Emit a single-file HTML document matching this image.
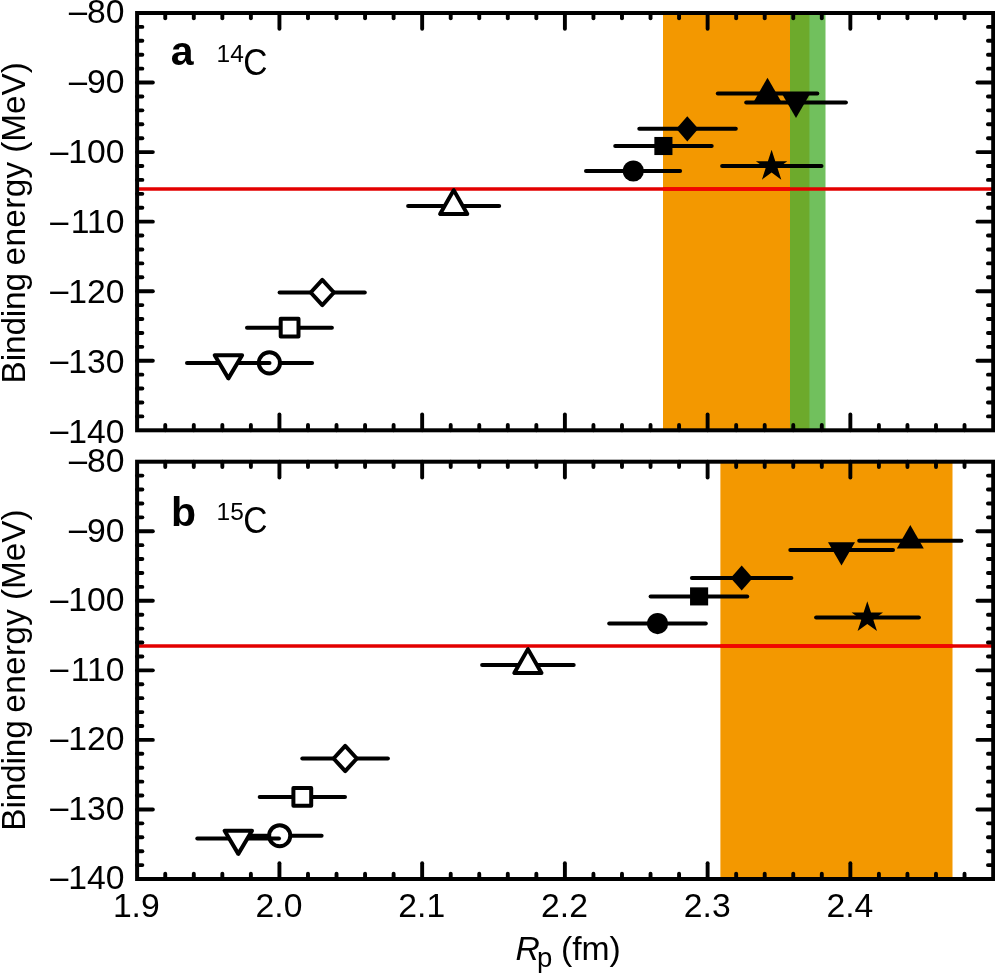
<!DOCTYPE html>
<html><head><meta charset="utf-8"><title>Binding energy vs Rp</title>
<style>html,body{margin:0;padding:0;background:#fff;}body{width:995px;height:974px;overflow:hidden;}svg{display:block;will-change:transform;}text{font-family:"Liberation Sans",sans-serif;fill:#000;}</style>
</head><body>
<svg width="995" height="974" viewBox="0 0 995 974">
<rect x="0" y="0" width="995" height="974" fill="#fff"/>
<rect x="663" y="13" width="146.4" height="417.3" fill="#F39800"/>
<rect x="790" y="13" width="35.5" height="417.3" fill="#71C05D"/>
<rect x="790" y="13" width="19.4" height="417.3" fill="#6DAA2C"/>
<line x1="137" y1="188.95" x2="993" y2="188.95" stroke="#E30000" stroke-width="3.4"/>
<line x1="663" y1="188.95" x2="790" y2="188.95" stroke="#F20500" stroke-width="3.4"/>
<line x1="226.7" y1="362.9" x2="312.1" y2="362.9" stroke="#000" stroke-width="4" stroke-linecap="round"/>
<circle cx="269.4" cy="362.9" r="10.55" fill="#fff" stroke="#000" stroke-width="4"/>
<line x1="187" y1="362.9" x2="269.5" y2="362.9" stroke="#000" stroke-width="4" stroke-linecap="round"/>
<polygon points="214.7,355.17 242.1,355.17 228.4,378.37" fill="#fff" stroke="#000" stroke-width="4" stroke-linejoin="round"/>
<line x1="247" y1="327.7" x2="331.9" y2="327.7" stroke="#000" stroke-width="4" stroke-linecap="round"/>
<rect x="280.7" y="318.8" width="17.8" height="17.8" fill="#fff" stroke="#000" stroke-width="4" stroke-linejoin="round"/>
<line x1="279.6" y1="292.5" x2="364.8" y2="292.5" stroke="#000" stroke-width="4" stroke-linecap="round"/>
<polygon points="310.7,292.5 322.3,279.9 333.9,292.5 322.3,305.1" fill="#fff" stroke="#000" stroke-width="4" stroke-linejoin="round"/>
<line x1="408.1" y1="206" x2="499.2" y2="206" stroke="#000" stroke-width="4" stroke-linecap="round"/>
<polygon points="440.1,213.93 467.3,213.93 453.7,190.13" fill="#fff" stroke="#000" stroke-width="4" stroke-linejoin="round"/>
<line x1="586" y1="171" x2="680.1" y2="171" stroke="#000" stroke-width="4" stroke-linecap="round"/>
<circle cx="633.3" cy="171" r="10.6" fill="#000"/>
<line x1="615.2" y1="146" x2="711.7" y2="146" stroke="#000" stroke-width="4" stroke-linecap="round"/>
<rect x="654.35" y="136.95" width="18.1" height="18.1" fill="#000"/>
<line x1="639.3" y1="128.8" x2="735.8" y2="128.8" stroke="#000" stroke-width="4" stroke-linecap="round"/>
<polygon points="676.3,128.8 687.3,116.2 698.3,128.8 687.3,141.4" fill="#000"/>
<line x1="717.8" y1="93.4" x2="817.3" y2="93.4" stroke="#000" stroke-width="4" stroke-linecap="round"/>
<polygon points="754,101.27 781,101.27 767.5,77.67" fill="#000"/>
<line x1="746.2" y1="102.6" x2="845.9" y2="102.6" stroke="#000" stroke-width="4" stroke-linecap="round"/>
<polygon points="782.5,94.87 809.5,94.87 796,118.07" fill="#000"/>
<line x1="722.1" y1="166" x2="821.5" y2="166" stroke="#000" stroke-width="4" stroke-linecap="round"/>
<polygon points="771.6,149.8 775.3,161.2 787.29,161.2 777.59,168.25 781.3,179.65 771.6,172.6 761.9,179.65 765.61,168.25 755.91,161.2 767.9,161.2" fill="#000"/>
<line x1="165.25" y1="13" x2="165.25" y2="18.25" stroke="#000" stroke-width="3.9" stroke-linecap="round"/>
<line x1="165.25" y1="430.3" x2="165.25" y2="425.05" stroke="#000" stroke-width="3.9" stroke-linecap="round"/>
<line x1="193.79" y1="13" x2="193.79" y2="18.25" stroke="#000" stroke-width="3.9" stroke-linecap="round"/>
<line x1="193.79" y1="430.3" x2="193.79" y2="425.05" stroke="#000" stroke-width="3.9" stroke-linecap="round"/>
<line x1="222.34" y1="13" x2="222.34" y2="18.25" stroke="#000" stroke-width="3.9" stroke-linecap="round"/>
<line x1="222.34" y1="430.3" x2="222.34" y2="425.05" stroke="#000" stroke-width="3.9" stroke-linecap="round"/>
<line x1="250.88" y1="13" x2="250.88" y2="18.25" stroke="#000" stroke-width="3.9" stroke-linecap="round"/>
<line x1="250.88" y1="430.3" x2="250.88" y2="425.05" stroke="#000" stroke-width="3.9" stroke-linecap="round"/>
<line x1="279.43" y1="13" x2="279.43" y2="28.75" stroke="#000" stroke-width="3.9" stroke-linecap="round"/>
<line x1="279.43" y1="430.3" x2="279.43" y2="414.55" stroke="#000" stroke-width="3.9" stroke-linecap="round"/>
<line x1="307.98" y1="13" x2="307.98" y2="18.25" stroke="#000" stroke-width="3.9" stroke-linecap="round"/>
<line x1="307.98" y1="430.3" x2="307.98" y2="425.05" stroke="#000" stroke-width="3.9" stroke-linecap="round"/>
<line x1="336.52" y1="13" x2="336.52" y2="18.25" stroke="#000" stroke-width="3.9" stroke-linecap="round"/>
<line x1="336.52" y1="430.3" x2="336.52" y2="425.05" stroke="#000" stroke-width="3.9" stroke-linecap="round"/>
<line x1="365.07" y1="13" x2="365.07" y2="18.25" stroke="#000" stroke-width="3.9" stroke-linecap="round"/>
<line x1="365.07" y1="430.3" x2="365.07" y2="425.05" stroke="#000" stroke-width="3.9" stroke-linecap="round"/>
<line x1="393.61" y1="13" x2="393.61" y2="18.25" stroke="#000" stroke-width="3.9" stroke-linecap="round"/>
<line x1="393.61" y1="430.3" x2="393.61" y2="425.05" stroke="#000" stroke-width="3.9" stroke-linecap="round"/>
<line x1="422.16" y1="13" x2="422.16" y2="28.75" stroke="#000" stroke-width="3.9" stroke-linecap="round"/>
<line x1="422.16" y1="430.3" x2="422.16" y2="414.55" stroke="#000" stroke-width="3.9" stroke-linecap="round"/>
<line x1="450.71" y1="13" x2="450.71" y2="18.25" stroke="#000" stroke-width="3.9" stroke-linecap="round"/>
<line x1="450.71" y1="430.3" x2="450.71" y2="425.05" stroke="#000" stroke-width="3.9" stroke-linecap="round"/>
<line x1="479.25" y1="13" x2="479.25" y2="18.25" stroke="#000" stroke-width="3.9" stroke-linecap="round"/>
<line x1="479.25" y1="430.3" x2="479.25" y2="425.05" stroke="#000" stroke-width="3.9" stroke-linecap="round"/>
<line x1="507.8" y1="13" x2="507.8" y2="18.25" stroke="#000" stroke-width="3.9" stroke-linecap="round"/>
<line x1="507.8" y1="430.3" x2="507.8" y2="425.05" stroke="#000" stroke-width="3.9" stroke-linecap="round"/>
<line x1="536.34" y1="13" x2="536.34" y2="18.25" stroke="#000" stroke-width="3.9" stroke-linecap="round"/>
<line x1="536.34" y1="430.3" x2="536.34" y2="425.05" stroke="#000" stroke-width="3.9" stroke-linecap="round"/>
<line x1="564.89" y1="13" x2="564.89" y2="28.75" stroke="#000" stroke-width="3.9" stroke-linecap="round"/>
<line x1="564.89" y1="430.3" x2="564.89" y2="414.55" stroke="#000" stroke-width="3.9" stroke-linecap="round"/>
<line x1="593.44" y1="13" x2="593.44" y2="18.25" stroke="#000" stroke-width="3.9" stroke-linecap="round"/>
<line x1="593.44" y1="430.3" x2="593.44" y2="425.05" stroke="#000" stroke-width="3.9" stroke-linecap="round"/>
<line x1="621.98" y1="13" x2="621.98" y2="18.25" stroke="#000" stroke-width="3.9" stroke-linecap="round"/>
<line x1="621.98" y1="430.3" x2="621.98" y2="425.05" stroke="#000" stroke-width="3.9" stroke-linecap="round"/>
<line x1="650.53" y1="13" x2="650.53" y2="18.25" stroke="#000" stroke-width="3.9" stroke-linecap="round"/>
<line x1="650.53" y1="430.3" x2="650.53" y2="425.05" stroke="#000" stroke-width="3.9" stroke-linecap="round"/>
<line x1="679.07" y1="13" x2="679.07" y2="18.25" stroke="#000" stroke-width="3.9" stroke-linecap="round"/>
<line x1="679.07" y1="430.3" x2="679.07" y2="425.05" stroke="#000" stroke-width="3.9" stroke-linecap="round"/>
<line x1="707.62" y1="13" x2="707.62" y2="28.75" stroke="#000" stroke-width="3.9" stroke-linecap="round"/>
<line x1="707.62" y1="430.3" x2="707.62" y2="414.55" stroke="#000" stroke-width="3.9" stroke-linecap="round"/>
<line x1="736.17" y1="13" x2="736.17" y2="18.25" stroke="#000" stroke-width="3.9" stroke-linecap="round"/>
<line x1="736.17" y1="430.3" x2="736.17" y2="425.05" stroke="#000" stroke-width="3.9" stroke-linecap="round"/>
<line x1="764.71" y1="13" x2="764.71" y2="18.25" stroke="#000" stroke-width="3.9" stroke-linecap="round"/>
<line x1="764.71" y1="430.3" x2="764.71" y2="425.05" stroke="#000" stroke-width="3.9" stroke-linecap="round"/>
<line x1="793.26" y1="13" x2="793.26" y2="18.25" stroke="#000" stroke-width="3.9" stroke-linecap="round"/>
<line x1="793.26" y1="430.3" x2="793.26" y2="425.05" stroke="#000" stroke-width="3.9" stroke-linecap="round"/>
<line x1="821.8" y1="13" x2="821.8" y2="18.25" stroke="#000" stroke-width="3.9" stroke-linecap="round"/>
<line x1="821.8" y1="430.3" x2="821.8" y2="425.05" stroke="#000" stroke-width="3.9" stroke-linecap="round"/>
<line x1="850.35" y1="13" x2="850.35" y2="28.75" stroke="#000" stroke-width="3.9" stroke-linecap="round"/>
<line x1="850.35" y1="430.3" x2="850.35" y2="414.55" stroke="#000" stroke-width="3.9" stroke-linecap="round"/>
<line x1="878.9" y1="13" x2="878.9" y2="18.25" stroke="#000" stroke-width="3.9" stroke-linecap="round"/>
<line x1="878.9" y1="430.3" x2="878.9" y2="425.05" stroke="#000" stroke-width="3.9" stroke-linecap="round"/>
<line x1="907.44" y1="13" x2="907.44" y2="18.25" stroke="#000" stroke-width="3.9" stroke-linecap="round"/>
<line x1="907.44" y1="430.3" x2="907.44" y2="425.05" stroke="#000" stroke-width="3.9" stroke-linecap="round"/>
<line x1="935.99" y1="13" x2="935.99" y2="18.25" stroke="#000" stroke-width="3.9" stroke-linecap="round"/>
<line x1="935.99" y1="430.3" x2="935.99" y2="425.05" stroke="#000" stroke-width="3.9" stroke-linecap="round"/>
<line x1="964.53" y1="13" x2="964.53" y2="18.25" stroke="#000" stroke-width="3.9" stroke-linecap="round"/>
<line x1="964.53" y1="430.3" x2="964.53" y2="425.05" stroke="#000" stroke-width="3.9" stroke-linecap="round"/>
<line x1="137.1" y1="26.91" x2="142.35" y2="26.91" stroke="#000" stroke-width="3.9" stroke-linecap="round"/>
<line x1="993.2" y1="26.91" x2="987.95" y2="26.91" stroke="#000" stroke-width="3.9" stroke-linecap="round"/>
<line x1="137.1" y1="40.82" x2="142.35" y2="40.82" stroke="#000" stroke-width="3.9" stroke-linecap="round"/>
<line x1="993.2" y1="40.82" x2="987.95" y2="40.82" stroke="#000" stroke-width="3.9" stroke-linecap="round"/>
<line x1="137.1" y1="54.73" x2="142.35" y2="54.73" stroke="#000" stroke-width="3.9" stroke-linecap="round"/>
<line x1="993.2" y1="54.73" x2="987.95" y2="54.73" stroke="#000" stroke-width="3.9" stroke-linecap="round"/>
<line x1="137.1" y1="68.64" x2="142.35" y2="68.64" stroke="#000" stroke-width="3.9" stroke-linecap="round"/>
<line x1="993.2" y1="68.64" x2="987.95" y2="68.64" stroke="#000" stroke-width="3.9" stroke-linecap="round"/>
<line x1="137.1" y1="82.55" x2="152.85" y2="82.55" stroke="#000" stroke-width="3.9" stroke-linecap="round"/>
<line x1="993.2" y1="82.55" x2="977.45" y2="82.55" stroke="#000" stroke-width="3.9" stroke-linecap="round"/>
<line x1="137.1" y1="96.46" x2="142.35" y2="96.46" stroke="#000" stroke-width="3.9" stroke-linecap="round"/>
<line x1="993.2" y1="96.46" x2="987.95" y2="96.46" stroke="#000" stroke-width="3.9" stroke-linecap="round"/>
<line x1="137.1" y1="110.37" x2="142.35" y2="110.37" stroke="#000" stroke-width="3.9" stroke-linecap="round"/>
<line x1="993.2" y1="110.37" x2="987.95" y2="110.37" stroke="#000" stroke-width="3.9" stroke-linecap="round"/>
<line x1="137.1" y1="124.28" x2="142.35" y2="124.28" stroke="#000" stroke-width="3.9" stroke-linecap="round"/>
<line x1="993.2" y1="124.28" x2="987.95" y2="124.28" stroke="#000" stroke-width="3.9" stroke-linecap="round"/>
<line x1="137.1" y1="138.19" x2="142.35" y2="138.19" stroke="#000" stroke-width="3.9" stroke-linecap="round"/>
<line x1="993.2" y1="138.19" x2="987.95" y2="138.19" stroke="#000" stroke-width="3.9" stroke-linecap="round"/>
<line x1="137.1" y1="152.1" x2="152.85" y2="152.1" stroke="#000" stroke-width="3.9" stroke-linecap="round"/>
<line x1="993.2" y1="152.1" x2="977.45" y2="152.1" stroke="#000" stroke-width="3.9" stroke-linecap="round"/>
<line x1="137.1" y1="166.01" x2="142.35" y2="166.01" stroke="#000" stroke-width="3.9" stroke-linecap="round"/>
<line x1="993.2" y1="166.01" x2="987.95" y2="166.01" stroke="#000" stroke-width="3.9" stroke-linecap="round"/>
<line x1="137.1" y1="179.92" x2="142.35" y2="179.92" stroke="#000" stroke-width="3.9" stroke-linecap="round"/>
<line x1="993.2" y1="179.92" x2="987.95" y2="179.92" stroke="#000" stroke-width="3.9" stroke-linecap="round"/>
<line x1="137.1" y1="193.83" x2="142.35" y2="193.83" stroke="#000" stroke-width="3.9" stroke-linecap="round"/>
<line x1="993.2" y1="193.83" x2="987.95" y2="193.83" stroke="#000" stroke-width="3.9" stroke-linecap="round"/>
<line x1="137.1" y1="207.74" x2="142.35" y2="207.74" stroke="#000" stroke-width="3.9" stroke-linecap="round"/>
<line x1="993.2" y1="207.74" x2="987.95" y2="207.74" stroke="#000" stroke-width="3.9" stroke-linecap="round"/>
<line x1="137.1" y1="221.65" x2="152.85" y2="221.65" stroke="#000" stroke-width="3.9" stroke-linecap="round"/>
<line x1="993.2" y1="221.65" x2="977.45" y2="221.65" stroke="#000" stroke-width="3.9" stroke-linecap="round"/>
<line x1="137.1" y1="235.56" x2="142.35" y2="235.56" stroke="#000" stroke-width="3.9" stroke-linecap="round"/>
<line x1="993.2" y1="235.56" x2="987.95" y2="235.56" stroke="#000" stroke-width="3.9" stroke-linecap="round"/>
<line x1="137.1" y1="249.47" x2="142.35" y2="249.47" stroke="#000" stroke-width="3.9" stroke-linecap="round"/>
<line x1="993.2" y1="249.47" x2="987.95" y2="249.47" stroke="#000" stroke-width="3.9" stroke-linecap="round"/>
<line x1="137.1" y1="263.38" x2="142.35" y2="263.38" stroke="#000" stroke-width="3.9" stroke-linecap="round"/>
<line x1="993.2" y1="263.38" x2="987.95" y2="263.38" stroke="#000" stroke-width="3.9" stroke-linecap="round"/>
<line x1="137.1" y1="277.29" x2="142.35" y2="277.29" stroke="#000" stroke-width="3.9" stroke-linecap="round"/>
<line x1="993.2" y1="277.29" x2="987.95" y2="277.29" stroke="#000" stroke-width="3.9" stroke-linecap="round"/>
<line x1="137.1" y1="291.2" x2="152.85" y2="291.2" stroke="#000" stroke-width="3.9" stroke-linecap="round"/>
<line x1="993.2" y1="291.2" x2="977.45" y2="291.2" stroke="#000" stroke-width="3.9" stroke-linecap="round"/>
<line x1="137.1" y1="305.11" x2="142.35" y2="305.11" stroke="#000" stroke-width="3.9" stroke-linecap="round"/>
<line x1="993.2" y1="305.11" x2="987.95" y2="305.11" stroke="#000" stroke-width="3.9" stroke-linecap="round"/>
<line x1="137.1" y1="319.02" x2="142.35" y2="319.02" stroke="#000" stroke-width="3.9" stroke-linecap="round"/>
<line x1="993.2" y1="319.02" x2="987.95" y2="319.02" stroke="#000" stroke-width="3.9" stroke-linecap="round"/>
<line x1="137.1" y1="332.93" x2="142.35" y2="332.93" stroke="#000" stroke-width="3.9" stroke-linecap="round"/>
<line x1="993.2" y1="332.93" x2="987.95" y2="332.93" stroke="#000" stroke-width="3.9" stroke-linecap="round"/>
<line x1="137.1" y1="346.84" x2="142.35" y2="346.84" stroke="#000" stroke-width="3.9" stroke-linecap="round"/>
<line x1="993.2" y1="346.84" x2="987.95" y2="346.84" stroke="#000" stroke-width="3.9" stroke-linecap="round"/>
<line x1="137.1" y1="360.75" x2="152.85" y2="360.75" stroke="#000" stroke-width="3.9" stroke-linecap="round"/>
<line x1="993.2" y1="360.75" x2="977.45" y2="360.75" stroke="#000" stroke-width="3.9" stroke-linecap="round"/>
<line x1="137.1" y1="374.66" x2="142.35" y2="374.66" stroke="#000" stroke-width="3.9" stroke-linecap="round"/>
<line x1="993.2" y1="374.66" x2="987.95" y2="374.66" stroke="#000" stroke-width="3.9" stroke-linecap="round"/>
<line x1="137.1" y1="388.57" x2="142.35" y2="388.57" stroke="#000" stroke-width="3.9" stroke-linecap="round"/>
<line x1="993.2" y1="388.57" x2="987.95" y2="388.57" stroke="#000" stroke-width="3.9" stroke-linecap="round"/>
<line x1="137.1" y1="402.48" x2="142.35" y2="402.48" stroke="#000" stroke-width="3.9" stroke-linecap="round"/>
<line x1="993.2" y1="402.48" x2="987.95" y2="402.48" stroke="#000" stroke-width="3.9" stroke-linecap="round"/>
<line x1="137.1" y1="416.39" x2="142.35" y2="416.39" stroke="#000" stroke-width="3.9" stroke-linecap="round"/>
<line x1="993.2" y1="416.39" x2="987.95" y2="416.39" stroke="#000" stroke-width="3.9" stroke-linecap="round"/>
<rect x="137.1" y="13" width="856.1" height="417.3" fill="none" stroke="#000" stroke-width="4"/>
<text transform="translate(88.91,25.05) scale(1.115,1)" font-size="33.7" text-anchor="end">−</text>
<text x="124.5" y="23.45" font-size="33.7" text-anchor="end">80</text>
<text transform="translate(88.91,94.91) scale(1.115,1)" font-size="33.7" text-anchor="end">−</text>
<text x="124.5" y="93.31" font-size="33.7" text-anchor="end">90</text>
<text transform="translate(70.17,164.77) scale(1.115,1)" font-size="33.7" text-anchor="end">−</text>
<text x="124.5" y="163.17" font-size="33.7" text-anchor="end">100</text>
<text transform="translate(70.17,234.63) scale(1.115,1)" font-size="33.7" text-anchor="end">−</text>
<text x="124.5" y="233.03" font-size="33.7" text-anchor="end">110</text>
<text transform="translate(70.17,304.49) scale(1.115,1)" font-size="33.7" text-anchor="end">−</text>
<text x="124.5" y="302.89" font-size="33.7" text-anchor="end">120</text>
<text transform="translate(70.17,374.35) scale(1.115,1)" font-size="33.7" text-anchor="end">−</text>
<text x="124.5" y="372.75" font-size="33.7" text-anchor="end">130</text>
<text transform="translate(70.17,444.21) scale(1.115,1)" font-size="33.7" text-anchor="end">−</text>
<text x="124.5" y="442.61" font-size="33.7" text-anchor="end">140</text>
<rect x="720.4" y="461.7" width="232.1" height="417.3" fill="#F39800"/>
<line x1="137" y1="645.95" x2="993" y2="645.95" stroke="#E30000" stroke-width="3.4"/>
<line x1="720.4" y1="645.95" x2="952.5" y2="645.95" stroke="#F20500" stroke-width="3.4"/>
<line x1="237.8" y1="835.7" x2="321.6" y2="835.7" stroke="#000" stroke-width="4" stroke-linecap="round"/>
<circle cx="279.7" cy="835.7" r="10.55" fill="#fff" stroke="#000" stroke-width="4"/>
<line x1="197.3" y1="838.4" x2="279" y2="838.4" stroke="#000" stroke-width="4" stroke-linecap="round"/>
<polygon points="224.6,830.67 252,830.67 238.3,853.87" fill="#fff" stroke="#000" stroke-width="4" stroke-linejoin="round"/>
<line x1="259.7" y1="796.9" x2="345" y2="796.9" stroke="#000" stroke-width="4" stroke-linecap="round"/>
<rect x="293.4" y="788" width="17.8" height="17.8" fill="#fff" stroke="#000" stroke-width="4" stroke-linejoin="round"/>
<line x1="302.3" y1="758.5" x2="387.9" y2="758.5" stroke="#000" stroke-width="4" stroke-linecap="round"/>
<polygon points="333.6,758.5 345.2,745.9 356.8,758.5 345.2,771.1" fill="#fff" stroke="#000" stroke-width="4" stroke-linejoin="round"/>
<line x1="482.1" y1="665" x2="573.7" y2="665" stroke="#000" stroke-width="4" stroke-linecap="round"/>
<polygon points="514.3,672.93 541.5,672.93 527.9,649.13" fill="#fff" stroke="#000" stroke-width="4" stroke-linejoin="round"/>
<line x1="609.2" y1="623.6" x2="705.8" y2="623.6" stroke="#000" stroke-width="4" stroke-linecap="round"/>
<circle cx="657.6" cy="623.6" r="10.6" fill="#000"/>
<line x1="650.6" y1="596.4" x2="747.2" y2="596.4" stroke="#000" stroke-width="4" stroke-linecap="round"/>
<rect x="690.05" y="587.35" width="18.1" height="18.1" fill="#000"/>
<line x1="691.9" y1="578" x2="791.4" y2="578" stroke="#000" stroke-width="4" stroke-linecap="round"/>
<polygon points="730.7,578 741.7,565.4 752.7,578 741.7,590.6" fill="#000"/>
<line x1="790.3" y1="550" x2="893" y2="550" stroke="#000" stroke-width="4" stroke-linecap="round"/>
<polygon points="828,542.27 855,542.27 841.5,565.47" fill="#000"/>
<line x1="859.2" y1="540.7" x2="961.4" y2="540.7" stroke="#000" stroke-width="4" stroke-linecap="round"/>
<polygon points="896.8,548.57 923.8,548.57 910.3,524.97" fill="#000"/>
<line x1="816.1" y1="617.4" x2="918.9" y2="617.4" stroke="#000" stroke-width="4" stroke-linecap="round"/>
<polygon points="867.3,601.2 871,612.6 882.99,612.6 873.29,619.65 877,631.05 867.3,624 857.6,631.05 861.31,619.65 851.61,612.6 863.6,612.6" fill="#000"/>
<line x1="165.25" y1="461.7" x2="165.25" y2="466.95" stroke="#000" stroke-width="3.9" stroke-linecap="round"/>
<line x1="165.25" y1="879" x2="165.25" y2="873.75" stroke="#000" stroke-width="3.9" stroke-linecap="round"/>
<line x1="193.79" y1="461.7" x2="193.79" y2="466.95" stroke="#000" stroke-width="3.9" stroke-linecap="round"/>
<line x1="193.79" y1="879" x2="193.79" y2="873.75" stroke="#000" stroke-width="3.9" stroke-linecap="round"/>
<line x1="222.34" y1="461.7" x2="222.34" y2="466.95" stroke="#000" stroke-width="3.9" stroke-linecap="round"/>
<line x1="222.34" y1="879" x2="222.34" y2="873.75" stroke="#000" stroke-width="3.9" stroke-linecap="round"/>
<line x1="250.88" y1="461.7" x2="250.88" y2="466.95" stroke="#000" stroke-width="3.9" stroke-linecap="round"/>
<line x1="250.88" y1="879" x2="250.88" y2="873.75" stroke="#000" stroke-width="3.9" stroke-linecap="round"/>
<line x1="279.43" y1="461.7" x2="279.43" y2="477.45" stroke="#000" stroke-width="3.9" stroke-linecap="round"/>
<line x1="279.43" y1="879" x2="279.43" y2="863.25" stroke="#000" stroke-width="3.9" stroke-linecap="round"/>
<line x1="307.98" y1="461.7" x2="307.98" y2="466.95" stroke="#000" stroke-width="3.9" stroke-linecap="round"/>
<line x1="307.98" y1="879" x2="307.98" y2="873.75" stroke="#000" stroke-width="3.9" stroke-linecap="round"/>
<line x1="336.52" y1="461.7" x2="336.52" y2="466.95" stroke="#000" stroke-width="3.9" stroke-linecap="round"/>
<line x1="336.52" y1="879" x2="336.52" y2="873.75" stroke="#000" stroke-width="3.9" stroke-linecap="round"/>
<line x1="365.07" y1="461.7" x2="365.07" y2="466.95" stroke="#000" stroke-width="3.9" stroke-linecap="round"/>
<line x1="365.07" y1="879" x2="365.07" y2="873.75" stroke="#000" stroke-width="3.9" stroke-linecap="round"/>
<line x1="393.61" y1="461.7" x2="393.61" y2="466.95" stroke="#000" stroke-width="3.9" stroke-linecap="round"/>
<line x1="393.61" y1="879" x2="393.61" y2="873.75" stroke="#000" stroke-width="3.9" stroke-linecap="round"/>
<line x1="422.16" y1="461.7" x2="422.16" y2="477.45" stroke="#000" stroke-width="3.9" stroke-linecap="round"/>
<line x1="422.16" y1="879" x2="422.16" y2="863.25" stroke="#000" stroke-width="3.9" stroke-linecap="round"/>
<line x1="450.71" y1="461.7" x2="450.71" y2="466.95" stroke="#000" stroke-width="3.9" stroke-linecap="round"/>
<line x1="450.71" y1="879" x2="450.71" y2="873.75" stroke="#000" stroke-width="3.9" stroke-linecap="round"/>
<line x1="479.25" y1="461.7" x2="479.25" y2="466.95" stroke="#000" stroke-width="3.9" stroke-linecap="round"/>
<line x1="479.25" y1="879" x2="479.25" y2="873.75" stroke="#000" stroke-width="3.9" stroke-linecap="round"/>
<line x1="507.8" y1="461.7" x2="507.8" y2="466.95" stroke="#000" stroke-width="3.9" stroke-linecap="round"/>
<line x1="507.8" y1="879" x2="507.8" y2="873.75" stroke="#000" stroke-width="3.9" stroke-linecap="round"/>
<line x1="536.34" y1="461.7" x2="536.34" y2="466.95" stroke="#000" stroke-width="3.9" stroke-linecap="round"/>
<line x1="536.34" y1="879" x2="536.34" y2="873.75" stroke="#000" stroke-width="3.9" stroke-linecap="round"/>
<line x1="564.89" y1="461.7" x2="564.89" y2="477.45" stroke="#000" stroke-width="3.9" stroke-linecap="round"/>
<line x1="564.89" y1="879" x2="564.89" y2="863.25" stroke="#000" stroke-width="3.9" stroke-linecap="round"/>
<line x1="593.44" y1="461.7" x2="593.44" y2="466.95" stroke="#000" stroke-width="3.9" stroke-linecap="round"/>
<line x1="593.44" y1="879" x2="593.44" y2="873.75" stroke="#000" stroke-width="3.9" stroke-linecap="round"/>
<line x1="621.98" y1="461.7" x2="621.98" y2="466.95" stroke="#000" stroke-width="3.9" stroke-linecap="round"/>
<line x1="621.98" y1="879" x2="621.98" y2="873.75" stroke="#000" stroke-width="3.9" stroke-linecap="round"/>
<line x1="650.53" y1="461.7" x2="650.53" y2="466.95" stroke="#000" stroke-width="3.9" stroke-linecap="round"/>
<line x1="650.53" y1="879" x2="650.53" y2="873.75" stroke="#000" stroke-width="3.9" stroke-linecap="round"/>
<line x1="679.07" y1="461.7" x2="679.07" y2="466.95" stroke="#000" stroke-width="3.9" stroke-linecap="round"/>
<line x1="679.07" y1="879" x2="679.07" y2="873.75" stroke="#000" stroke-width="3.9" stroke-linecap="round"/>
<line x1="707.62" y1="461.7" x2="707.62" y2="477.45" stroke="#000" stroke-width="3.9" stroke-linecap="round"/>
<line x1="707.62" y1="879" x2="707.62" y2="863.25" stroke="#000" stroke-width="3.9" stroke-linecap="round"/>
<line x1="736.17" y1="461.7" x2="736.17" y2="466.95" stroke="#000" stroke-width="3.9" stroke-linecap="round"/>
<line x1="736.17" y1="879" x2="736.17" y2="873.75" stroke="#000" stroke-width="3.9" stroke-linecap="round"/>
<line x1="764.71" y1="461.7" x2="764.71" y2="466.95" stroke="#000" stroke-width="3.9" stroke-linecap="round"/>
<line x1="764.71" y1="879" x2="764.71" y2="873.75" stroke="#000" stroke-width="3.9" stroke-linecap="round"/>
<line x1="793.26" y1="461.7" x2="793.26" y2="466.95" stroke="#000" stroke-width="3.9" stroke-linecap="round"/>
<line x1="793.26" y1="879" x2="793.26" y2="873.75" stroke="#000" stroke-width="3.9" stroke-linecap="round"/>
<line x1="821.8" y1="461.7" x2="821.8" y2="466.95" stroke="#000" stroke-width="3.9" stroke-linecap="round"/>
<line x1="821.8" y1="879" x2="821.8" y2="873.75" stroke="#000" stroke-width="3.9" stroke-linecap="round"/>
<line x1="850.35" y1="461.7" x2="850.35" y2="477.45" stroke="#000" stroke-width="3.9" stroke-linecap="round"/>
<line x1="850.35" y1="879" x2="850.35" y2="863.25" stroke="#000" stroke-width="3.9" stroke-linecap="round"/>
<line x1="878.9" y1="461.7" x2="878.9" y2="466.95" stroke="#000" stroke-width="3.9" stroke-linecap="round"/>
<line x1="878.9" y1="879" x2="878.9" y2="873.75" stroke="#000" stroke-width="3.9" stroke-linecap="round"/>
<line x1="907.44" y1="461.7" x2="907.44" y2="466.95" stroke="#000" stroke-width="3.9" stroke-linecap="round"/>
<line x1="907.44" y1="879" x2="907.44" y2="873.75" stroke="#000" stroke-width="3.9" stroke-linecap="round"/>
<line x1="935.99" y1="461.7" x2="935.99" y2="466.95" stroke="#000" stroke-width="3.9" stroke-linecap="round"/>
<line x1="935.99" y1="879" x2="935.99" y2="873.75" stroke="#000" stroke-width="3.9" stroke-linecap="round"/>
<line x1="964.53" y1="461.7" x2="964.53" y2="466.95" stroke="#000" stroke-width="3.9" stroke-linecap="round"/>
<line x1="964.53" y1="879" x2="964.53" y2="873.75" stroke="#000" stroke-width="3.9" stroke-linecap="round"/>
<line x1="137.1" y1="475.61" x2="142.35" y2="475.61" stroke="#000" stroke-width="3.9" stroke-linecap="round"/>
<line x1="993.2" y1="475.61" x2="987.95" y2="475.61" stroke="#000" stroke-width="3.9" stroke-linecap="round"/>
<line x1="137.1" y1="489.52" x2="142.35" y2="489.52" stroke="#000" stroke-width="3.9" stroke-linecap="round"/>
<line x1="993.2" y1="489.52" x2="987.95" y2="489.52" stroke="#000" stroke-width="3.9" stroke-linecap="round"/>
<line x1="137.1" y1="503.43" x2="142.35" y2="503.43" stroke="#000" stroke-width="3.9" stroke-linecap="round"/>
<line x1="993.2" y1="503.43" x2="987.95" y2="503.43" stroke="#000" stroke-width="3.9" stroke-linecap="round"/>
<line x1="137.1" y1="517.34" x2="142.35" y2="517.34" stroke="#000" stroke-width="3.9" stroke-linecap="round"/>
<line x1="993.2" y1="517.34" x2="987.95" y2="517.34" stroke="#000" stroke-width="3.9" stroke-linecap="round"/>
<line x1="137.1" y1="531.25" x2="152.85" y2="531.25" stroke="#000" stroke-width="3.9" stroke-linecap="round"/>
<line x1="993.2" y1="531.25" x2="977.45" y2="531.25" stroke="#000" stroke-width="3.9" stroke-linecap="round"/>
<line x1="137.1" y1="545.16" x2="142.35" y2="545.16" stroke="#000" stroke-width="3.9" stroke-linecap="round"/>
<line x1="993.2" y1="545.16" x2="987.95" y2="545.16" stroke="#000" stroke-width="3.9" stroke-linecap="round"/>
<line x1="137.1" y1="559.07" x2="142.35" y2="559.07" stroke="#000" stroke-width="3.9" stroke-linecap="round"/>
<line x1="993.2" y1="559.07" x2="987.95" y2="559.07" stroke="#000" stroke-width="3.9" stroke-linecap="round"/>
<line x1="137.1" y1="572.98" x2="142.35" y2="572.98" stroke="#000" stroke-width="3.9" stroke-linecap="round"/>
<line x1="993.2" y1="572.98" x2="987.95" y2="572.98" stroke="#000" stroke-width="3.9" stroke-linecap="round"/>
<line x1="137.1" y1="586.89" x2="142.35" y2="586.89" stroke="#000" stroke-width="3.9" stroke-linecap="round"/>
<line x1="993.2" y1="586.89" x2="987.95" y2="586.89" stroke="#000" stroke-width="3.9" stroke-linecap="round"/>
<line x1="137.1" y1="600.8" x2="152.85" y2="600.8" stroke="#000" stroke-width="3.9" stroke-linecap="round"/>
<line x1="993.2" y1="600.8" x2="977.45" y2="600.8" stroke="#000" stroke-width="3.9" stroke-linecap="round"/>
<line x1="137.1" y1="614.71" x2="142.35" y2="614.71" stroke="#000" stroke-width="3.9" stroke-linecap="round"/>
<line x1="993.2" y1="614.71" x2="987.95" y2="614.71" stroke="#000" stroke-width="3.9" stroke-linecap="round"/>
<line x1="137.1" y1="628.62" x2="142.35" y2="628.62" stroke="#000" stroke-width="3.9" stroke-linecap="round"/>
<line x1="993.2" y1="628.62" x2="987.95" y2="628.62" stroke="#000" stroke-width="3.9" stroke-linecap="round"/>
<line x1="137.1" y1="642.53" x2="142.35" y2="642.53" stroke="#000" stroke-width="3.9" stroke-linecap="round"/>
<line x1="993.2" y1="642.53" x2="987.95" y2="642.53" stroke="#000" stroke-width="3.9" stroke-linecap="round"/>
<line x1="137.1" y1="656.44" x2="142.35" y2="656.44" stroke="#000" stroke-width="3.9" stroke-linecap="round"/>
<line x1="993.2" y1="656.44" x2="987.95" y2="656.44" stroke="#000" stroke-width="3.9" stroke-linecap="round"/>
<line x1="137.1" y1="670.35" x2="152.85" y2="670.35" stroke="#000" stroke-width="3.9" stroke-linecap="round"/>
<line x1="993.2" y1="670.35" x2="977.45" y2="670.35" stroke="#000" stroke-width="3.9" stroke-linecap="round"/>
<line x1="137.1" y1="684.26" x2="142.35" y2="684.26" stroke="#000" stroke-width="3.9" stroke-linecap="round"/>
<line x1="993.2" y1="684.26" x2="987.95" y2="684.26" stroke="#000" stroke-width="3.9" stroke-linecap="round"/>
<line x1="137.1" y1="698.17" x2="142.35" y2="698.17" stroke="#000" stroke-width="3.9" stroke-linecap="round"/>
<line x1="993.2" y1="698.17" x2="987.95" y2="698.17" stroke="#000" stroke-width="3.9" stroke-linecap="round"/>
<line x1="137.1" y1="712.08" x2="142.35" y2="712.08" stroke="#000" stroke-width="3.9" stroke-linecap="round"/>
<line x1="993.2" y1="712.08" x2="987.95" y2="712.08" stroke="#000" stroke-width="3.9" stroke-linecap="round"/>
<line x1="137.1" y1="725.99" x2="142.35" y2="725.99" stroke="#000" stroke-width="3.9" stroke-linecap="round"/>
<line x1="993.2" y1="725.99" x2="987.95" y2="725.99" stroke="#000" stroke-width="3.9" stroke-linecap="round"/>
<line x1="137.1" y1="739.9" x2="152.85" y2="739.9" stroke="#000" stroke-width="3.9" stroke-linecap="round"/>
<line x1="993.2" y1="739.9" x2="977.45" y2="739.9" stroke="#000" stroke-width="3.9" stroke-linecap="round"/>
<line x1="137.1" y1="753.81" x2="142.35" y2="753.81" stroke="#000" stroke-width="3.9" stroke-linecap="round"/>
<line x1="993.2" y1="753.81" x2="987.95" y2="753.81" stroke="#000" stroke-width="3.9" stroke-linecap="round"/>
<line x1="137.1" y1="767.72" x2="142.35" y2="767.72" stroke="#000" stroke-width="3.9" stroke-linecap="round"/>
<line x1="993.2" y1="767.72" x2="987.95" y2="767.72" stroke="#000" stroke-width="3.9" stroke-linecap="round"/>
<line x1="137.1" y1="781.63" x2="142.35" y2="781.63" stroke="#000" stroke-width="3.9" stroke-linecap="round"/>
<line x1="993.2" y1="781.63" x2="987.95" y2="781.63" stroke="#000" stroke-width="3.9" stroke-linecap="round"/>
<line x1="137.1" y1="795.54" x2="142.35" y2="795.54" stroke="#000" stroke-width="3.9" stroke-linecap="round"/>
<line x1="993.2" y1="795.54" x2="987.95" y2="795.54" stroke="#000" stroke-width="3.9" stroke-linecap="round"/>
<line x1="137.1" y1="809.45" x2="152.85" y2="809.45" stroke="#000" stroke-width="3.9" stroke-linecap="round"/>
<line x1="993.2" y1="809.45" x2="977.45" y2="809.45" stroke="#000" stroke-width="3.9" stroke-linecap="round"/>
<line x1="137.1" y1="823.36" x2="142.35" y2="823.36" stroke="#000" stroke-width="3.9" stroke-linecap="round"/>
<line x1="993.2" y1="823.36" x2="987.95" y2="823.36" stroke="#000" stroke-width="3.9" stroke-linecap="round"/>
<line x1="137.1" y1="837.27" x2="142.35" y2="837.27" stroke="#000" stroke-width="3.9" stroke-linecap="round"/>
<line x1="993.2" y1="837.27" x2="987.95" y2="837.27" stroke="#000" stroke-width="3.9" stroke-linecap="round"/>
<line x1="137.1" y1="851.18" x2="142.35" y2="851.18" stroke="#000" stroke-width="3.9" stroke-linecap="round"/>
<line x1="993.2" y1="851.18" x2="987.95" y2="851.18" stroke="#000" stroke-width="3.9" stroke-linecap="round"/>
<line x1="137.1" y1="865.09" x2="142.35" y2="865.09" stroke="#000" stroke-width="3.9" stroke-linecap="round"/>
<line x1="993.2" y1="865.09" x2="987.95" y2="865.09" stroke="#000" stroke-width="3.9" stroke-linecap="round"/>
<rect x="137.1" y="461.7" width="856.1" height="417.3" fill="none" stroke="#000" stroke-width="4"/>
<text transform="translate(88.91,473.55) scale(1.115,1)" font-size="33.7" text-anchor="end">−</text>
<text x="124.5" y="471.95" font-size="33.7" text-anchor="end">80</text>
<text transform="translate(88.91,543.1) scale(1.115,1)" font-size="33.7" text-anchor="end">−</text>
<text x="124.5" y="541.5" font-size="33.7" text-anchor="end">90</text>
<text transform="translate(70.17,612.65) scale(1.115,1)" font-size="33.7" text-anchor="end">−</text>
<text x="124.5" y="611.05" font-size="33.7" text-anchor="end">100</text>
<text transform="translate(70.17,682.2) scale(1.115,1)" font-size="33.7" text-anchor="end">−</text>
<text x="124.5" y="680.6" font-size="33.7" text-anchor="end">110</text>
<text transform="translate(70.17,751.75) scale(1.115,1)" font-size="33.7" text-anchor="end">−</text>
<text x="124.5" y="750.15" font-size="33.7" text-anchor="end">120</text>
<text transform="translate(70.17,821.3) scale(1.115,1)" font-size="33.7" text-anchor="end">−</text>
<text x="124.5" y="819.7" font-size="33.7" text-anchor="end">130</text>
<text transform="translate(70.17,890.85) scale(1.115,1)" font-size="33.7" text-anchor="end">−</text>
<text x="124.5" y="889.25" font-size="33.7" text-anchor="end">140</text>
<text x="136.3" y="916.7" font-size="33.7" text-anchor="middle">1.9</text>
<text x="279.03" y="916.7" font-size="33.7" text-anchor="middle">2.0</text>
<text x="421.76" y="916.7" font-size="33.7" text-anchor="middle">2.1</text>
<text x="564.49" y="916.7" font-size="33.7" text-anchor="middle">2.2</text>
<text x="707.22" y="916.7" font-size="33.7" text-anchor="middle">2.3</text>
<text x="849.95" y="916.7" font-size="33.7" text-anchor="middle">2.4</text>
<text x="515.5" y="960.2" font-size="33.7"><tspan font-style="italic">R</tspan><tspan font-size="27.5" dx="-2.9" dy="6.5">p</tspan><tspan dx="-0.6" dy="-6.5"> (fm)</tspan></text>
<text transform="translate(25.3,383.4) rotate(-90)" font-size="33.4" letter-spacing="-0.15">Binding</text>
<text transform="translate(25.3,265.4) rotate(-90)" font-size="33.4" letter-spacing="0.3">energy</text>
<text transform="translate(25.3,152.7) rotate(-90)" font-size="33.4" letter-spacing="-0.1">(MeV)</text>
<text transform="translate(25.3,830.7) rotate(-90)" font-size="33.4" letter-spacing="-0.15">Binding</text>
<text transform="translate(25.3,712.7) rotate(-90)" font-size="33.4" letter-spacing="0.3">energy</text>
<text transform="translate(25.3,600) rotate(-90)" font-size="33.4" letter-spacing="-0.1">(MeV)</text>
<text x="170.7" y="65.2" font-size="41" font-weight="bold">a</text>
<text x="216.6" y="62.1" font-size="24.5">14</text>
<text transform="translate(243.3,74.8) scale(1,1.10)" font-size="33.5">C</text>
<text x="171" y="525.5" font-size="41" font-weight="bold">b</text>
<text x="216.6" y="520.2" font-size="24.5">15</text>
<text transform="translate(243.3,532.7) scale(1,1.10)" font-size="33.5">C</text>
</svg></body></html>
